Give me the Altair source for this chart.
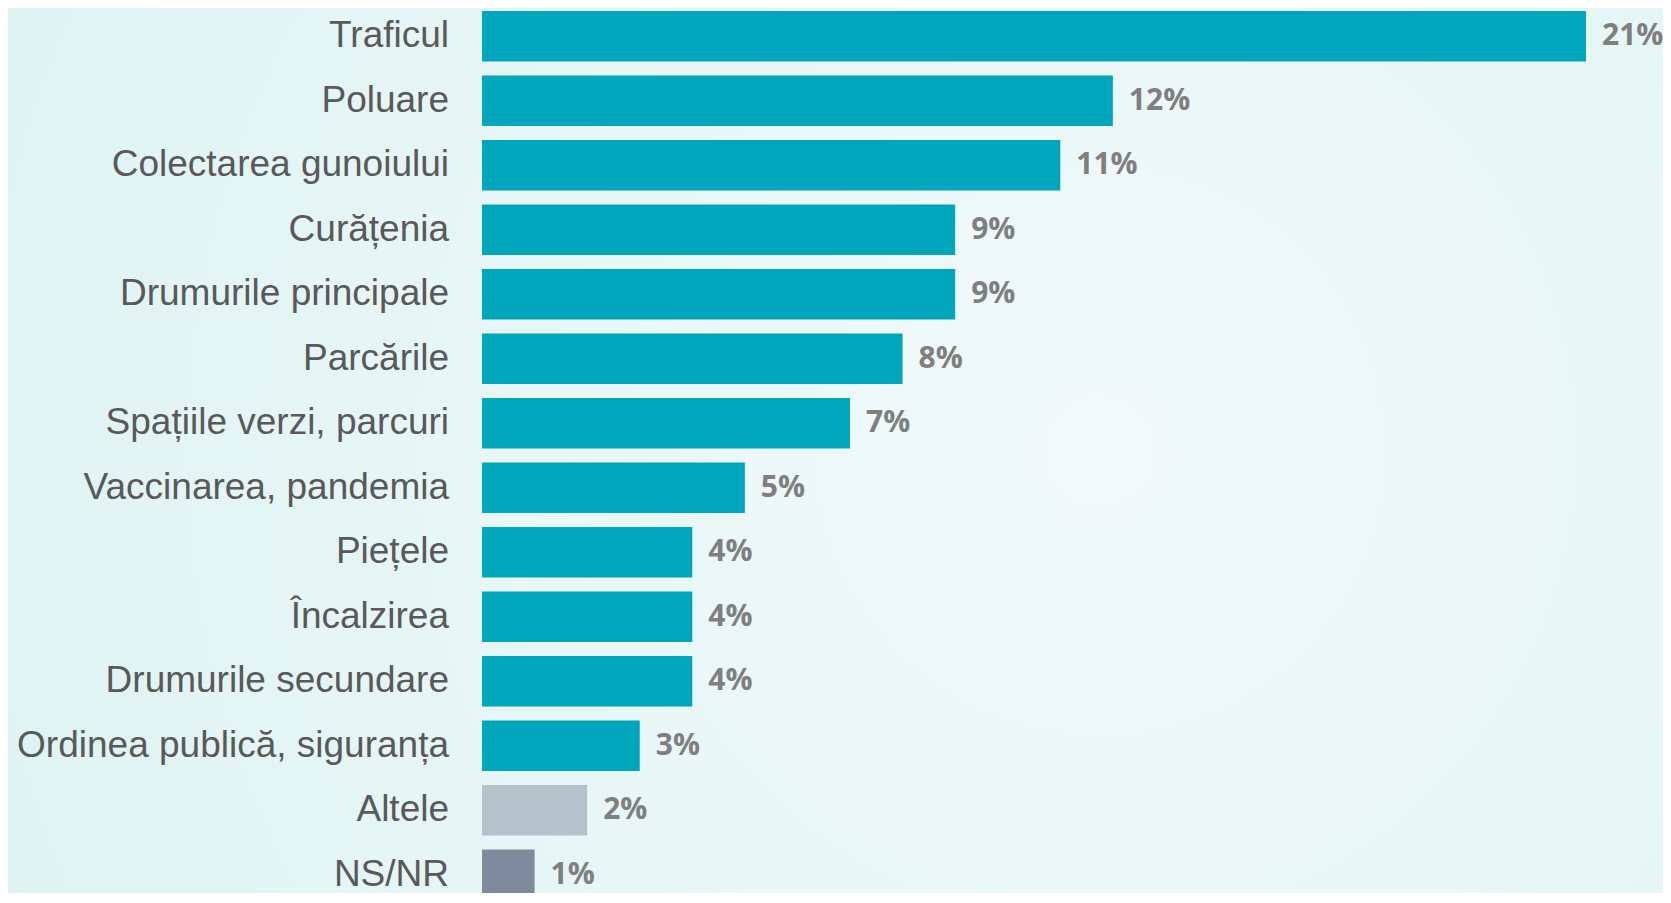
import altair as alt
import pandas as pd

categories = [
    "Traficul", "Poluare", "Colectarea gunoiului", "Curățenia",
    "Drumurile principale", "Parcările", "Spațiile verzi, parcuri",
    "Vaccinarea, pandemia", "Piețele", "Încalzirea", "Drumurile secundare",
    "Ordinea publică, siguranța", "Altele", "NS/NR",
]
values = [21, 12, 11, 9, 9, 8, 7, 5, 4, 4, 4, 3, 2, 1]
groups = ["main"] * 12 + ["other", "nsnr"]
group_colors = ["#00A6BB", "#B3C2CB", "#7F8A9C"]
group_names = ["main", "other", "nsnr"]

df = pd.DataFrame({"cat": categories, "val": values, "grp": groups})
df["lbl"] = df["val"].astype(str) + "%"
df["zero"] = 0

W, H = 1655, 885

xscale = alt.Scale(domain=[-9.017, 22.465], nice=False, zero=False)
yscale = alt.Scale(domain=categories, range=[0, 895],
                   paddingInner=0.218, paddingOuter=0.046)

grad = alt.RadialGradient(
    gradient="radial",
    x1=0.66, y1=0.5, r1=0,
    x2=0.66, y2=0.5, r2=0.75,
    stops=[
        alt.GradientStop(offset=0, color="#F2FAFA"),
        alt.GradientStop(offset=1, color="#DDF3F2"),
    ],
)

bg = alt.Chart(pd.DataFrame({"k": [0]})).mark_rect(fill=grad, strokeWidth=0).encode(
    x=alt.value(0), x2=alt.value(W), y=alt.value(0), y2=alt.value(H)
)

base = alt.Chart(df)

bars = base.mark_bar(clip=True).encode(
    x=alt.X("val:Q", scale=xscale, axis=None),
    x2="zero:Q",
    y=alt.Y("cat:N", scale=yscale, axis=None),
    color=alt.Color("grp:N", scale=alt.Scale(domain=group_names, range=group_colors), legend=None),
)

cat_labels = base.mark_text(
    clip=True, align="right", baseline="middle", dx=-33,
    font="Liberation Sans", fontSize=37, color="#595959",
).encode(
    x=alt.X("zero:Q", scale=xscale, axis=None),
    y=alt.Y("cat:N", scale=yscale, axis=None),
    text="cat:N",
)

val_labels = base.mark_text(
    clip=True, align="left", baseline="middle", dx=16,
    font="Open Sans", fontWeight="bold", fontSize=30, color="#7F7F7F",
).encode(
    x=alt.X("val:Q", scale=xscale, axis=None),
    y=alt.Y("cat:N", scale=yscale, axis=None),
    text="lbl:N",
)

chart = (
    alt.layer(bg, bars, cat_labels, val_labels)
    .properties(width=W, height=H, autosize=alt.AutoSizeParams(type="none"), padding=0,
                background="#DFF4F3")
    .configure_view(stroke=None)
)

chart.save("out.html", embed_options={"renderer": "svg", "actions": False})
